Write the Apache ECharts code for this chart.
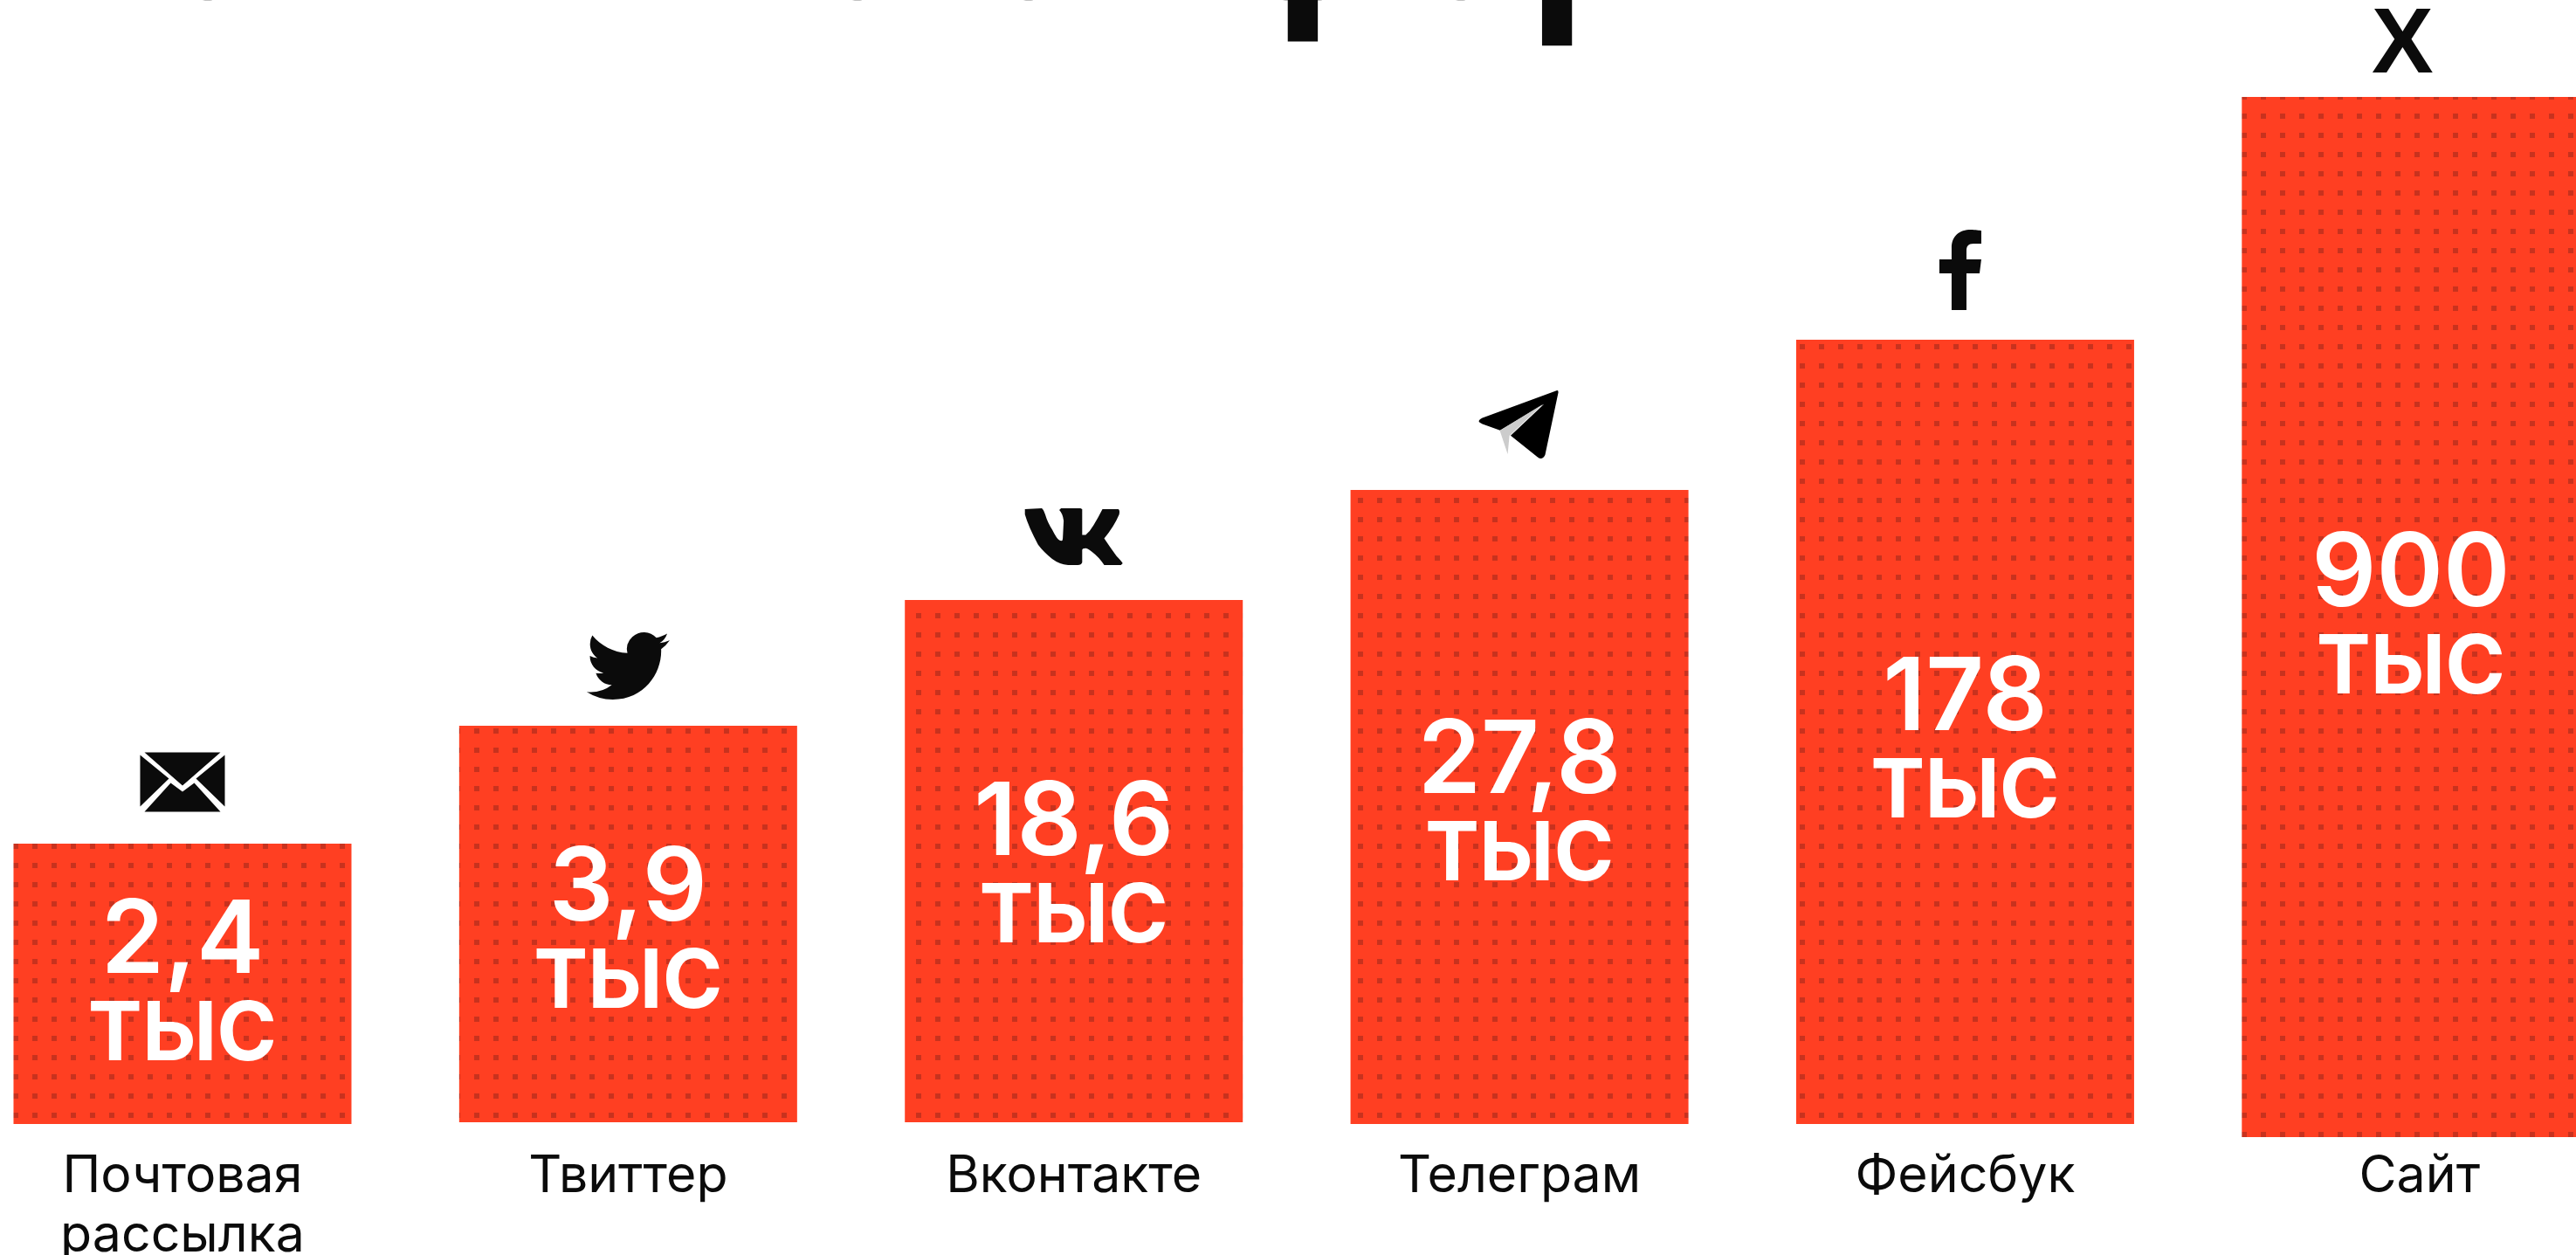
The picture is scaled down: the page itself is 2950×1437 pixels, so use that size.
<!DOCTYPE html>
<html style="height: 100%">
<head>
<meta charset="utf-8">
<script src="https://cdn.jsdelivr.net/npm/echarts@6/dist/echarts.min.js"></script>
</head>
<body style="height: 100%; margin: 0; background: #fff">
<div id="container" style="width: 2950px; height: 1437px"></div>
<script type="text/javascript">
var categories = ['Почтовая\nрассылка', 'Твиттер', 'Вконтакте', 'Телеграм', 'Фейсбук', 'Сайт'];
var valueLabels = ['2,4', '3,9', '18,6', '27,8', '178', '900'];
var unitLabel = 'ТЫС';
// bars are not to scale in the picture, heights are read off it
var barHeights = [321, 454, 598, 726, 898, 1191];
var barLift = [15, 17, 17, 15, 15, 0];

var RED = '#ff3f22', DOT = '#c8321e', INK = '#0b0b0b';
var FONT = 'Inter';
// labels are not quite centred in the bars
var labelShift = [0, 8, 5, -4, 10, 0];

var envelopePath = 'path://M5 0H92L48.5 38Z M0 3L33 30L0 62Z M97 3L64 30L97 62Z M5 68L35 35L48.5 45L62 35L92 68Z';
var birdPath = 'path://M23.953 4.57a10 10 0 0 1-2.825.775 4.958 4.958 0 0 0 2.163-2.723c-.951.555-2.005.959-3.127 1.184a4.92 4.92 0 0 0-8.384 4.482C7.69 8.095 4.067 6.13 1.64 3.162a4.822 4.822 0 0 0-.666 2.475c0 1.71.87 3.213 2.188 4.096a4.904 4.904 0 0 1-2.228-.616v.06a4.923 4.923 0 0 0 3.946 4.827 4.996 4.996 0 0 1-2.212.085 4.936 4.936 0 0 0 4.604 3.417 9.867 9.867 0 0 1-6.102 2.105c-.39 0-.779-.023-1.17-.067a13.995 13.995 0 0 0 7.557 2.209c9.053 0 13.998-7.496 13.998-13.985 0-.21 0-.42-.015-.63A9.935 9.935 0 0 0 24 4.59z';
var vkPath = 'path://M1 2L20 1Q22 2 24 8Q27 18 32 25Q37 35 40 37Q44 39 44 35L45 15Q44 7 40 3L42 1H64L66 2V31H70Q75 27 79 20Q85 10 89 2H107Q109 3 108 8Q102 22 91 35Q97 44 105 55Q110 60 112 63L110 65H91Q85 56 77 50Q72 46 70 46Q66 46 66 48V62Q65 65 61 65H50Q40 64 32 58Q22 50 16 42Q5 22 1 8Z';
var planePath = 'path://M88 1Q90 0 90 3L75 74Q73 78 70 78Q68 78 66 76L36 52L74 16L24 46L4 39Q0 37 0 36Q0 34 4 32Z';
var planeFoldPath = 'path://M49 0L0 30L9 57L11 36Z';
var fPath = 'path://M14 92V50H0V34H14V21C14 7 23 0 36 0C41 0 46 1 48 1V16H39C33 16 31 19 31 24V34H48L46 50H31V92Z';

function dotPattern() {
    var c = document.createElement('canvas');
    c.width = c.height = 22;
    var ctx = c.getContext('2d');
    ctx.fillStyle = RED;
    ctx.fillRect(0, 0, 22, 22);
    ctx.fillStyle = DOT;
    // dot at 15,20 wraps round the tile
    ctx.fillRect(15, 20, 6, 2);
    ctx.fillRect(15, 0, 6, 4);
    return c;
}

function barTop(i) { return barLift[i] + barHeights[i]; }

var icons = [
    { i: 0, symbol: envelopePath, size: [97, 68], off: [0, -70.5], color: INK },
    { i: 1, symbol: birdPath, size: [95, 77], off: [0, -68.5], color: INK },
    { i: 2, symbol: vkPath, size: [112, 65], off: [0, -72.5], color: INK },
    { i: 3, symbol: planePath, size: [91, 78], off: [-1, -75], color: '#000' },
    { i: 3, symbol: planeFoldPath, size: [49, 57], off: [2, -69.5], color: '#ccc' },
    { i: 4, symbol: fPath, size: [48, 92], off: [-5.5, -80], color: INK }
];

var titleBits = [
    { ch: 'о', x: 238 }, { ch: 'о', x: 982 }, { ch: 'о', x: 1178 },
    { ch: 'ф', x: 1492 }, { ch: 'о', x: 1673 }, { ch: 'р', x: 1832 }
];

var option = {
    animation: false,
    backgroundColor: '#fff',
    graphic: titleBits.map(function (b) {
        return {
            type: 'text', x: b.x, y: -84,
            style: { text: b.ch, font: '600 270px ' + FONT, fill: INK, textAlign: 'center', textVerticalAlign: 'middle' }
        };
    }),
    grid: { left: -46.2, width: 3062.2, top: 0, height: 1302, outerBoundsMode: 'none' },
    xAxis: {
        type: 'category',
        data: categories.map(function (c, i) {
            // last label sits a little right of its bar
            return i === 5 ? { value: c, textStyle: { padding: [0, 0, 0, 20] } } : c;
        }),
        axisLine: { show: false },
        axisTick: { show: false },
        axisLabel: {
            interval: 0, margin: 11, color: INK,
            fontFamily: FONT, fontSize: 59, lineHeight: 68
        }
    },
    yAxis: { type: 'value', min: 0, max: 1302, show: false },
    series: [
        {
            type: 'bar', stack: 'b', barWidth: 387,
            silent: true,
            itemStyle: { color: 'transparent' },
            data: barLift
        },
        {
            type: 'bar', stack: 'b', barWidth: 387,
            itemStyle: { color: { image: dotPattern(), repeat: 'repeat' } },
            label: {
                show: true, position: 'inside',
                formatter: function (p) {
                    return '{num|' + valueLabels[p.dataIndex] + '}\n{unit|' + unitLabel + '}';
                },
                rich: {
                    num: { fontFamily: FONT, fontWeight: 600, fontSize: 116, lineHeight: 120, color: '#fff' },
                    unit: { fontFamily: FONT, fontWeight: 700, fontSize: 93, lineHeight: 94, color: '#fff' }
                }
            },
            data: barHeights.map(function (h, i) {
                return { value: h, label: { offset: [0, labelShift[i]] } };
            })
        },
        {
            type: 'scatter',
            data: icons.map(function (d) {
                return {
                    value: [d.i, barTop(d.i)],
                    symbol: d.symbol, symbolSize: d.size, symbolOffset: d.off,
                    itemStyle: { color: d.color, opacity: 1 }
                };
            }).concat([{
                value: [5, barTop(5)],
                symbol: 'rect', symbolSize: 1, symbolOffset: [-9.5, -57],
                itemStyle: { color: 'transparent' },
                label: {
                    show: true, position: 'inside', formatter: 'X', color: INK, opacity: 1,
                    fontFamily: 'Liberation Sans', fontWeight: 700, fontSize: 106
                }
            }])
        }
    ]
};

var myChart = echarts.init(document.getElementById('container'));
myChart.setOption(option);
</script>
</body>
</html>
